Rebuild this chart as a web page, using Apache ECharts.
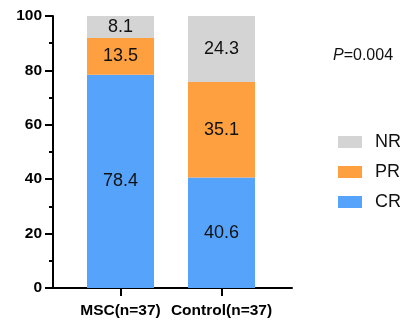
<!DOCTYPE html>
<html><head><meta charset="utf-8">
<script src="https://cdn.jsdelivr.net/npm/echarts@6/dist/echarts.min.js"></script>
<style>html,body{margin:0;padding:0;background:#fff}#c{width:404px;height:320px}</style>
</head><body><div id="c"></div>
<script>
var categories = ['MSC(n=37)', 'Control(n=37)'];
var crValues = [78.4, 40.6];
var prValues = [13.5, 35.1];
var nrValues = [8.1, 24.3];
var yTicks = [0, 20, 40, 60, 80, 100];
var pText = 'P=0.004';

var chart = echarts.init(document.getElementById('c'), null, {renderer: 'canvas'});
var font = 'Liberation Sans, Arial, sans-serif';
var lbl = {show: true, position: 'inside', color: '#111', fontSize: 18, fontFamily: font,
  formatter: function (p) { return p.value.toFixed(1); }};
chart.setOption({
  animation: false,
  textStyle: {fontFamily: font},
  title: {
    text: '{i|P}{n|' + pText.slice(1) + '}',
    left: 333, top: 48, padding: 0,
    textStyle: {fontWeight: 'normal', rich: {
      i: {fontSize: 16, fontStyle: 'italic', fontWeight: 'normal', color: '#111', fontFamily: font},
      n: {fontSize: 16, fontWeight: 'normal', color: '#111', fontFamily: font}
    }}
  },
  legend: {
    orient: 'vertical', left: 338, top: 133, padding: 0,
    data: ['NR', 'PR', 'CR'],
    itemWidth: 24, itemHeight: 12, itemGap: 12,
    icon: 'rect',
    textStyle: {fontSize: 18, color: '#111', fontFamily: font, padding: [0, 0, 0, 8]}
  },
  grid: [
    {left: 70, right: 132, top: 16, bottom: 32},
    {left: 53, right: 112, top: 16, bottom: 32}
  ],
  xAxis: [
    {type: 'category', gridIndex: 0, data: categories,
     axisLine: {show: false},
     axisTick: {show: true, alignWithLabel: true, length: 8, lineStyle: {color: '#000', width: 2}},
     axisLabel: {fontSize: 15.5, fontWeight: 'bold', color: '#000', margin: 15, interval: 0}},
    {type: 'value', gridIndex: 1, min: 0, max: 1,
     axisLine: {show: true, lineStyle: {color: '#000', width: 2}},
     axisTick: {show: false}, axisLabel: {show: false}, splitLine: {show: false}}
  ],
  yAxis: [
    {type: 'value', gridIndex: 0, min: yTicks[0], max: yTicks[yTicks.length - 1], interval: 20, offset: 17,
     axisLine: {show: true, lineStyle: {color: '#000', width: 2}},
     axisTick: {show: true, length: 8, lineStyle: {color: '#000', width: 2}},
     minorTick: {show: true, splitNumber: 2, length: 4, lineStyle: {color: '#000', width: 2}},
     axisLabel: {fontSize: 15.5, fontWeight: 'bold', color: '#000', margin: 11},
     splitLine: {show: false}},
    {type: 'value', gridIndex: 1, show: false, min: 0, max: 1}
  ],
  series: [
    {name: 'CR', type: 'bar', stack: 's', xAxisIndex: 0, yAxisIndex: 0, data: crValues, barWidth: 67,
     itemStyle: {color: '#56a3fc'}, label: lbl},
    {name: 'PR', type: 'bar', stack: 's', xAxisIndex: 0, yAxisIndex: 0, data: prValues, barWidth: 67,
     itemStyle: {color: '#ffa040'}, label: lbl},
    {name: 'NR', type: 'bar', stack: 's', xAxisIndex: 0, yAxisIndex: 0, data: nrValues, barWidth: 67,
     itemStyle: {color: '#d4d4d4'}, label: lbl}
  ]
});
</script></body></html>
